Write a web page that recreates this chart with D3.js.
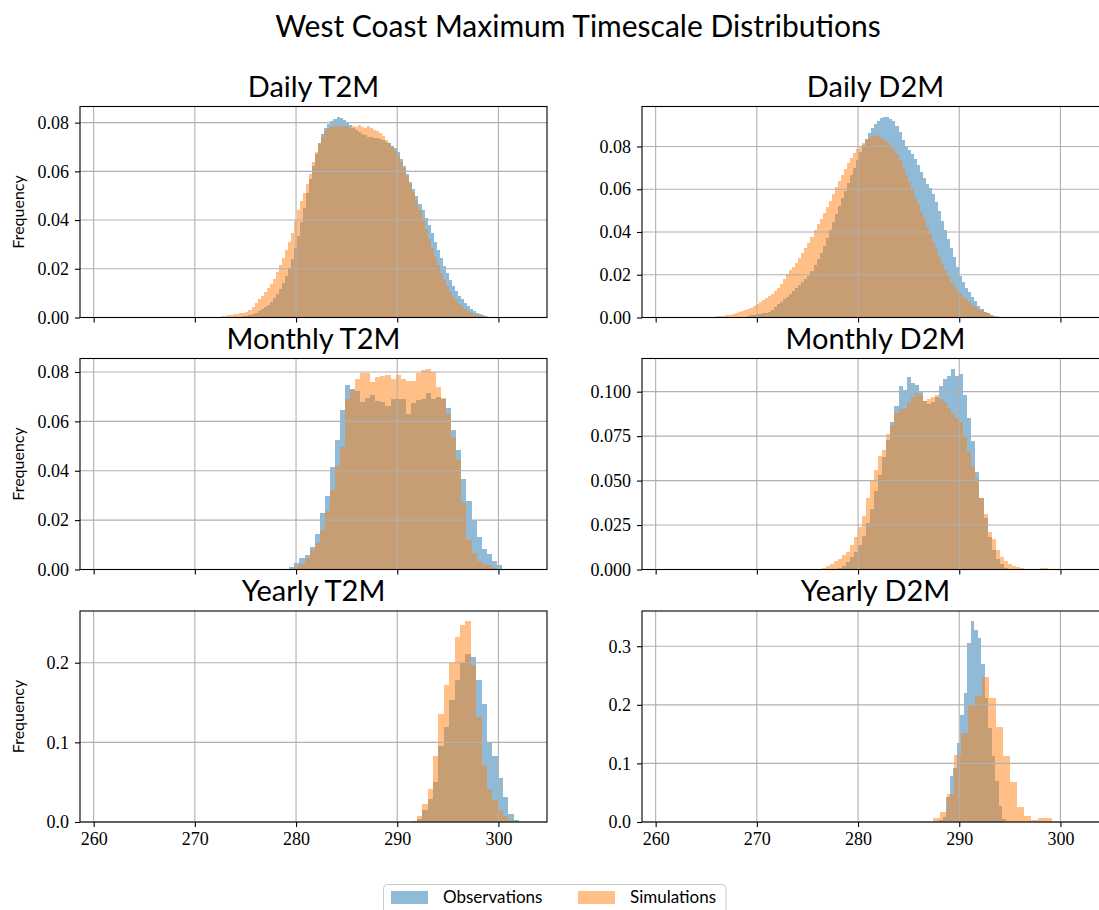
<!DOCTYPE html>
<html>
<head>
<meta charset="utf-8">
<script src="https://cdn.jsdelivr.net/npm/d3@7"></script>
<style>
  body { margin: 0; background: #fff; }
  svg { display: block; }
  .tick line { stroke: #000; stroke-width: 1.1; }
  .panel-title { font-family: Lato, sans-serif; font-size: 29px; fill: #000; }
  .main-title { font-family: Lato, sans-serif; font-size: 30px; fill: #000; }
  .y-label { font-family: Lato, sans-serif; font-size: 16px; fill: #000; }
  .legend-text { font-family: Lato, sans-serif; font-size: 17px; fill: #000; }
</style>
</head>
<body>
<svg id="chart" width="1099" height="910"></svg>
<script>
// ---- data (densities) ----
const X_TICKS = [260, 270, 280, 290, 300]
const SERIES_NAMES = ['Observations', 'Simulations']
const PANEL_TITLES = ['Daily T2M', 'Daily D2M', 'Monthly T2M', 'Monthly D2M', 'Yearly T2M', 'Yearly D2M']
const Y_TICKS = [
  [0, 0.02, 0.04, 0.06, 0.08],
  [0, 0.02, 0.04, 0.06, 0.08],
  [0, 0.02, 0.04, 0.06, 0.08],
  [0, 0.025, 0.05, 0.075, 0.1],
  [0, 0.1, 0.2],
  [0, 0.1, 0.2, 0.3]
]
const Y_FORMATS = ['.2f', '.2f', '.2f', '.3f', '.1f', '.1f']

// bin edges: [first edge, bin width]
const dailyT2mObsBins = [273.5, 0.3]
const dailyT2mObs = [
  0.0001, 0.0002, 0.0003, 0.0004, 0.0005, 0.0007, 0.0010, 0.0014, 0.0019, 0.0026,
  0.0033, 0.0042, 0.0052, 0.0063, 0.0080, 0.0098, 0.0118, 0.0142, 0.0170, 0.0202,
  0.0240, 0.0285, 0.0335, 0.0392, 0.0450, 0.0510, 0.0568, 0.0622, 0.0672, 0.0718,
  0.0752, 0.0778, 0.0796, 0.0808, 0.0816, 0.0825, 0.0818, 0.0812, 0.0798, 0.0790,
  0.0780, 0.0768, 0.0762, 0.0755, 0.0748, 0.0742, 0.0740, 0.0736, 0.0735, 0.0734,
  0.0728, 0.0722, 0.0716, 0.0706, 0.0694, 0.0678, 0.0652, 0.0622, 0.0590, 0.0556,
  0.0526, 0.0498, 0.0468, 0.0440, 0.0410, 0.0378, 0.0345, 0.0312, 0.0278, 0.0245,
  0.0212, 0.0183, 0.0155, 0.0130, 0.0110, 0.0090, 0.0074, 0.0060, 0.0047, 0.0036,
  0.0028, 0.0020, 0.0014, 0.0010, 0.0006, 0.0003, 0.0001
]
const dailyT2mSimBins = [271.7, 0.3]
const dailyT2mSim = [
  0.0002, 0.0003, 0.0004, 0.0005, 0.0007, 0.0009, 0.0011, 0.0013, 0.0015, 0.0017,
  0.0019, 0.0022, 0.0030, 0.0042, 0.0058, 0.0075, 0.0090, 0.0104, 0.0120, 0.0136,
  0.0160, 0.0186, 0.0215, 0.0245, 0.0276, 0.0308, 0.0345, 0.0398, 0.0440, 0.0478,
  0.0512, 0.0548, 0.0590, 0.0640, 0.0680, 0.0712, 0.0740, 0.0765, 0.0778, 0.0782,
  0.0785, 0.0786, 0.0784, 0.0788, 0.0785, 0.0780, 0.0788, 0.0782, 0.0790, 0.0784,
  0.0780, 0.0786, 0.0776, 0.0770, 0.0764, 0.0758, 0.0745, 0.0730, 0.0716, 0.0700,
  0.0684, 0.0664, 0.0640, 0.0612, 0.0580, 0.0548, 0.0515, 0.0480, 0.0440, 0.0400,
  0.0362, 0.0322, 0.0284, 0.0250, 0.0215, 0.0183, 0.0155, 0.0128, 0.0104, 0.0086,
  0.0070, 0.0056, 0.0045, 0.0035, 0.0027, 0.0020, 0.0014, 0.0009, 0.0005, 0.0002
]
const dailyD2mObsBins = [269.0, 0.3]
const dailyD2mObs = [
  0.0008, 0.0010, 0.0013, 0.0015, 0.0017, 0.0019, 0.0021, 0.0025, 0.0035, 0.0048,
  0.0062, 0.0074, 0.0086, 0.0098, 0.0110, 0.0122, 0.0136, 0.0150, 0.0165, 0.0180,
  0.0196, 0.0218, 0.0244, 0.0272, 0.0302, 0.0336, 0.0372, 0.0410, 0.0448, 0.0486,
  0.0522, 0.0558, 0.0594, 0.0630, 0.0665, 0.0700, 0.0738, 0.0776, 0.0806, 0.0835,
  0.0862, 0.0885, 0.0905, 0.0920, 0.0932, 0.0940, 0.0936, 0.0928, 0.0918, 0.0895,
  0.0866, 0.0832, 0.0802, 0.0782, 0.0765, 0.0742, 0.0712, 0.0682, 0.0652, 0.0626,
  0.0606, 0.0580, 0.0540, 0.0496, 0.0452, 0.0410, 0.0368, 0.0325, 0.0282, 0.0238,
  0.0196, 0.0165, 0.0140, 0.0118, 0.0095, 0.0075, 0.0056, 0.0040, 0.0028, 0.0019,
  0.0012, 0.0007, 0.0003
]
const dailyD2mSimBins = [265.1, 0.3]
const dailyD2mSim = [
  0.0002, 0.0003, 0.0004, 0.0005, 0.0007, 0.0008, 0.0010, 0.0013, 0.0017, 0.0021,
  0.0025, 0.0029, 0.0033, 0.0038, 0.0045, 0.0054, 0.0063, 0.0072, 0.0081, 0.0090,
  0.0100, 0.0112, 0.0124, 0.0138, 0.0158, 0.0182, 0.0204, 0.0220, 0.0236, 0.0254,
  0.0276, 0.0300, 0.0325, 0.0350, 0.0378, 0.0408, 0.0438, 0.0462, 0.0488, 0.0515,
  0.0545, 0.0578, 0.0610, 0.0640, 0.0668, 0.0696, 0.0722, 0.0745, 0.0768, 0.0788,
  0.0802, 0.0815, 0.0828, 0.0840, 0.0850, 0.0855, 0.0850, 0.0840, 0.0832, 0.0822,
  0.0805, 0.0790, 0.0765, 0.0735, 0.0702, 0.0668, 0.0634, 0.0600, 0.0565, 0.0530,
  0.0495, 0.0460, 0.0425, 0.0390, 0.0355, 0.0320, 0.0285, 0.0252, 0.0222, 0.0195,
  0.0168, 0.0146, 0.0128, 0.0112, 0.0098, 0.0085, 0.0072, 0.0060, 0.0050, 0.0041,
  0.0033, 0.0026, 0.0019, 0.0013, 0.0009, 0.0006, 0.0004, 0.0003, 0.0002, 0.0002
]
const monthlyT2mObsBins = [279.34, 0.5]
const monthlyT2mObs = [
  0.0011, 0.0028, 0.0045, 0.0058, 0.0092, 0.0144, 0.0228, 0.0296, 0.0414, 0.0523,
  0.0648, 0.0746, 0.0732, 0.0723, 0.0678, 0.0696, 0.0705, 0.0682, 0.0679, 0.0664,
  0.0692, 0.0692, 0.0692, 0.0628, 0.0675, 0.0686, 0.0689, 0.0713, 0.0689, 0.0700,
  0.0689, 0.0655, 0.0567, 0.0483, 0.0367, 0.0279, 0.0201, 0.0130, 0.0083, 0.0062,
  0.0035, 0.0018, 0.0004
]
const monthlyT2mSimBins = [279.34, 0.5]
const monthlyT2mSim = [
  0.0004, 0.0014, 0.0024, 0.0045, 0.0079, 0.0108, 0.0160, 0.0235, 0.0323, 0.0420,
  0.0496, 0.0689, 0.0729, 0.0770, 0.0795, 0.0795, 0.0761, 0.0781, 0.0784, 0.0786,
  0.0770, 0.0786, 0.0773, 0.0763, 0.0763, 0.0795, 0.0808, 0.0814, 0.0800, 0.0740,
  0.0696, 0.0628, 0.0537, 0.0445, 0.0268, 0.0119, 0.0065, 0.0035, 0.0024, 0.0018,
  0.0008, 0.0004
]
const monthlyD2mObsBins = [278.0, 0.4]
const monthlyD2mObs = [
  0.001, 0.002, 0.004, 0.007, 0.010, 0.014, 0.019, 0.026, 0.034, 0.044,
  0.053, 0.063, 0.073, 0.083, 0.092, 0.103, 0.101, 0.108, 0.105, 0.104,
  0.100, 0.095, 0.093, 0.094, 0.097, 0.103, 0.107, 0.109, 0.113, 0.109,
  0.110, 0.098, 0.085, 0.072, 0.055, 0.040, 0.029, 0.018, 0.011, 0.006,
  0.003, 0.001
]
const monthlyD2mSimBins = [276.0, 0.4]
const monthlyD2mSim = [
  0.0005, 0.001, 0.002, 0.003, 0.0045, 0.006, 0.008, 0.010, 0.014, 0.018,
  0.024, 0.030, 0.040, 0.050, 0.056, 0.064, 0.067, 0.076, 0.081, 0.088,
  0.090, 0.091, 0.094, 0.097, 0.099, 0.098, 0.095, 0.096, 0.097, 0.098,
  0.096, 0.094, 0.091, 0.088, 0.085, 0.083, 0.075, 0.066, 0.058, 0.051,
  0.040, 0.031, 0.021, 0.017, 0.011, 0.007, 0.0045, 0.003, 0.002, 0.0013,
  0.0008, 0.0004, 0.0002, 0.0002, 0, 0.0006, 0.0006
]
const yearlyT2mObsBins = [291.4, 0.533]
const yearlyT2mObs = [
  0.0013, 0.0040, 0.0148, 0.0287, 0.0498, 0.0958, 0.1194, 0.1527, 0.1780, 0.1996,
  0.2110, 0.2068, 0.1780, 0.1485, 0.1010, 0.0823, 0.0549, 0.0308, 0.0097, 0.0030
]
const yearlyT2mSimBins = [291.4, 0.533]
const yearlyT2mSim = [
  0.0017, 0.0072, 0.0224, 0.0410, 0.0830, 0.1360, 0.1720, 0.2000, 0.2320, 0.2477,
  0.2523, 0.1970, 0.1320, 0.0710, 0.0420, 0.0270, 0.0148, 0.0072, 0.0020
]
const yearlyD2mObsBins = [288.03, 0.345]
const yearlyD2mObs = [
  0.004, 0.008, 0.042, 0.079, 0.092, 0.134, 0.182, 0.221, 0.306, 0.343,
  0.328, 0.314, 0.270, 0.212, 0.160, 0.112, 0.070, 0.0275, 0.0057
]
const yearlyD2mSimBins = [287.4, 0.69]
const yearlyD2mSim = [
  0.006, 0.017, 0.048, 0.114, 0.152, 0.199, 0.215, 0.248, 0.212, 0.162,
  0.112, 0.069, 0.026, 0.010, 0.004, 0.006, 0.006
]

// ---- layout ----
const BLUE = '#1f77b4'
const ORANGE = '#ff7f0e'
const TICK_FONT = "'Liberation Serif', 'DejaVu Serif', serif"
const X_DOMAIN = [258.65, 304.8]
const COL_LEFT = [80, 642]
const ROW_TOP = [106.5, 358.5, 611]
const PANEL_W = 467
const PANEL_H = 211

const svg = d3.select('#chart')

/**
 * Turns a bin-edge spec and a list of densities into bar objects.
 *
 * @param {number[]} spec [first edge, width]
 * @param {number[]} values The density of each bin
 * @returns {object[]} The bins
 */
function toBins (spec, values) {
  return values.map((v, i) => ({
    x0: spec[0] + i * spec[1],
    x1: spec[0] + (i + 1) * spec[1],
    v: v
  }))
}

const panels = [
  { obs: toBins(dailyT2mObsBins, dailyT2mObs), sim: toBins(dailyT2mSimBins, dailyT2mSim) },
  { obs: toBins(dailyD2mObsBins, dailyD2mObs), sim: toBins(dailyD2mSimBins, dailyD2mSim) },
  { obs: toBins(monthlyT2mObsBins, monthlyT2mObs), sim: toBins(monthlyT2mSimBins, monthlyT2mSim) },
  { obs: toBins(monthlyD2mObsBins, monthlyD2mObs), sim: toBins(monthlyD2mSimBins, monthlyD2mSim) },
  { obs: toBins(yearlyT2mObsBins, yearlyT2mObs), sim: toBins(yearlyT2mSimBins, yearlyT2mSim) },
  { obs: toBins(yearlyD2mObsBins, yearlyD2mObs), sim: toBins(yearlyD2mSimBins, yearlyD2mSim) }
]

/**
 * Draws one histogram series as semi transparent bars.
 *
 * @param {*} g The panel group
 * @param {object[]} bins The bins to draw
 * @param {*} x The x scale
 * @param {*} y The y scale
 * @param {string} color The fill colour
 */
function drawBars (g, bins, x, y, color) {
  g.append('g')
    .selectAll('rect')
    .data(bins)
    .join('rect')
    .attr('x', d => x(d.x0))
    .attr('width', d => x(d.x1) - x(d.x0))
    .attr('y', d => y(d.v))
    .attr('height', d => y(0) - y(d.v))
    .attr('fill', color)
    .attr('fill-opacity', 0.5)
    .attr('shape-rendering', 'crispEdges')
}

/**
 * Styles the labels of an axis with the serif tick font.
 *
 * @param {*} a The axis selection
 */
function styleTicks (a) {
  a.select('.domain').remove()
  a.selectAll('text')
    .style('font-family', TICK_FONT)
    .style('font-size', '18px')
    .attr('fill', '#000')
}

/**
 * Draws a whole subplot: bars, grid, axes, spines and title.
 *
 * @param {object} panel The two series of the panel
 * @param {number} idx The index of the panel (row major)
 */
function drawPanel (panel, idx) {
  const row = Math.floor(idx / 2)
  const col = idx % 2
  const left = COL_LEFT[col]
  const top = ROW_TOP[row]
  const yMax = d3.max(panel.obs.concat(panel.sim), d => d.v) * 1.05

  const x = d3.scaleLinear().domain(X_DOMAIN).range([left, left + PANEL_W])
  const y = d3.scaleLinear().domain([0, yMax]).range([top + PANEL_H, top])

  const g = svg.append('g')

  drawBars(g, panel.obs, x, y, BLUE)
  drawBars(g, panel.sim, x, y, ORANGE)

  // grid sits over the bars, like matplotlib
  g.append('g')
    .selectAll('line.vgrid')
    .data(X_TICKS)
    .join('line')
    .attr('x1', d => x(d))
    .attr('x2', d => x(d))
    .attr('y1', top)
    .attr('y2', top + PANEL_H)
    .attr('stroke', '#b0b0b0')
    .attr('stroke-width', 1.1)
  g.append('g')
    .selectAll('line.hgrid')
    .data(Y_TICKS[idx])
    .join('line')
    .attr('x1', left)
    .attr('x2', left + PANEL_W)
    .attr('y1', d => y(d))
    .attr('y2', d => y(d))
    .attr('stroke', '#b0b0b0')
    .attr('stroke-width', 1.1)

  const xAxis = d3.axisBottom(x)
    .tickValues(X_TICKS)
    .tickSize(5)
    .tickPadding(5)
    .tickSizeOuter(0)
  if (row < 2) xAxis.tickFormat('')
  g.append('g')
    .attr('transform', `translate(0,${top + PANEL_H})`)
    .call(xAxis)
    .call(styleTicks)

  const yAxis = d3.axisLeft(y)
    .tickValues(Y_TICKS[idx])
    .tickFormat(d3.format(Y_FORMATS[idx]))
    .tickSize(5)
    .tickPadding(6)
    .tickSizeOuter(0)
  g.append('g')
    .attr('transform', `translate(${left},0)`)
    .call(yAxis)
    .call(styleTicks)

  g.append('rect')
    .attr('x', left)
    .attr('y', top)
    .attr('width', PANEL_W)
    .attr('height', PANEL_H)
    .attr('fill', 'none')
    .attr('stroke', '#000')
    .attr('stroke-width', 1.1)

  g.append('text')
    .attr('class', 'panel-title')
    .attr('x', left + PANEL_W / 2)
    .attr('y', top - 10)
    .attr('text-anchor', 'middle')
    .text(PANEL_TITLES[idx])

  if (col === 0) {
    g.append('text')
      .attr('class', 'y-label')
      .attr('transform', `translate(24,${top + PANEL_H / 2}) rotate(-90)`)
      .attr('text-anchor', 'middle')
      .text('Frequency')
  }
}

panels.forEach(drawPanel)

svg.append('text')
  .attr('class', 'main-title')
  .attr('x', 578)
  .attr('y', 37)
  .attr('text-anchor', 'middle')
  .text('West Coast Maximum Timescale Distributions')

/**
 * Draws the legend box under the plots.
 */
function drawLegend () {
  const lg = svg.append('g')
  lg.append('rect')
    .attr('x', 383.5)
    .attr('y', 884.5)
    .attr('width', 342.5)
    .attr('height', 40)
    .attr('rx', 4)
    .attr('fill', '#fff')
    .attr('stroke', '#cccccc')

  const colors = [BLUE, ORANGE]
  const itemX = [391, 578]
  SERIES_NAMES.forEach((name, i) => {
    lg.append('rect')
      .attr('x', itemX[i])
      .attr('y', 891)
      .attr('width', 37)
      .attr('height', 13)
      .attr('fill', colors[i])
      .attr('fill-opacity', 0.5)
    lg.append('text')
      .attr('class', 'legend-text')
      .attr('x', itemX[i] + 52)
      .attr('y', 903)
      .text(name)
  })
}

drawLegend()
</script>
</body>
</html>
